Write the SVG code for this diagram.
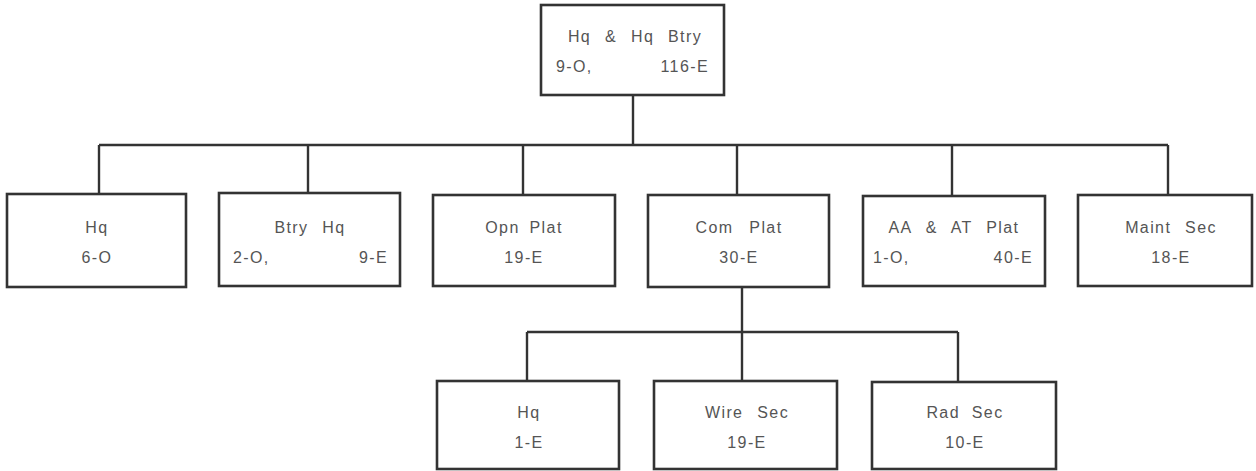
<svg xmlns="http://www.w3.org/2000/svg" width="1256" height="471" viewBox="0 0 1256 471">
<style>
rect.box{fill:#fff;stroke:#333;stroke-width:2.6}
.conn line{stroke:#333;stroke-width:2.4}
text{font-family:"Liberation Sans","DejaVu Sans",sans-serif;font-size:16px;fill:#555;letter-spacing:1.4px;word-spacing:4px}
.c{text-anchor:middle}
.e{text-anchor:end}
</style>
<rect width="1256" height="471" fill="#fff"/>
<g class="conn" id="connectors">
<line x1="633" y1="95" x2="633" y2="145"/>
<line x1="99" y1="145" x2="1168" y2="145"/>
<line x1="99" y1="145" x2="99" y2="194"/>
<line x1="308" y1="145" x2="308" y2="193"/>
<line x1="523" y1="145" x2="523" y2="195"/>
<line x1="737" y1="145" x2="737" y2="195"/>
<line x1="952" y1="145" x2="952" y2="196"/>
<line x1="1168" y1="145" x2="1168" y2="195"/>
<line x1="742" y1="287" x2="742" y2="381"/>
<line x1="527" y1="332" x2="958" y2="332"/>
<line x1="527" y1="332" x2="527" y2="381"/>
<line x1="958" y1="332" x2="958" y2="382"/>
</g>
<g id="n-top"><rect class="box" x="541" y="5" width="183" height="90"/>
<text class="c" x="635" y="42" style="word-spacing:8px">Hq &amp; Hq Btry</text>
<text x="556" y="72">9-O,</text><text class="e" x="709" y="72">116-E</text></g>
<g id="n-hq"><rect class="box" x="7" y="194" width="179" height="93"/>
<text class="c" x="97" y="233">Hq</text><text class="c" x="97" y="263">6-O</text></g>
<g id="n-btryhq"><rect class="box" x="219" y="193" width="181" height="93"/>
<text class="c" x="310" y="233" style="word-spacing:8px">Btry Hq</text>
<text x="233" y="263">2-O,</text><text class="e" x="388" y="263">9-E</text></g>
<g id="n-opn"><rect class="box" x="433" y="195" width="182" height="91"/>
<text class="c" x="524" y="233">Opn Plat</text><text class="c" x="524" y="263">19-E</text></g>
<g id="n-com"><rect class="box" x="648" y="195" width="181" height="92"/>
<text class="c" x="739" y="233" style="word-spacing:10px">Com Plat</text><text class="c" x="739" y="263">30-E</text></g>
<g id="n-aa"><rect class="box" x="863" y="196" width="182" height="90"/>
<text class="c" x="954" y="233" style="word-spacing:8px">AA &amp; AT Plat</text>
<text x="873" y="263">1-O,</text><text class="e" x="1033" y="263">40-E</text></g>
<g id="n-maint"><rect class="box" x="1078" y="195" width="174" height="91"/>
<text class="c" x="1171" y="233" style="word-spacing:8px">Maint Sec</text><text class="c" x="1171" y="263">18-E</text></g>
<g id="n-hq2"><rect class="box" x="437" y="381" width="182" height="88"/>
<text class="c" x="529" y="418">Hq</text><text class="c" x="529" y="448">1-E</text></g>
<g id="n-wire"><rect class="box" x="654" y="381" width="183" height="88"/>
<text class="c" x="747" y="418" style="word-spacing:8px">Wire Sec</text><text class="c" x="747" y="448">19-E</text></g>
<g id="n-rad"><rect class="box" x="872" y="382" width="184" height="87"/>
<text class="c" x="965" y="418" style="word-spacing:6px">Rad Sec</text><text class="c" x="965" y="448">10-E</text></g>
</svg>
